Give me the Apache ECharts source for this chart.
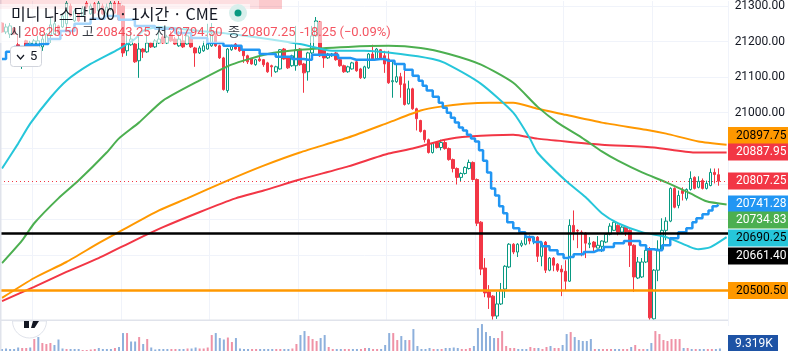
<!DOCTYPE html>
<html>
<head>
<meta charset="utf-8">
<style>
  html, body { margin: 0; padding: 0; background: #fff; }
  #chart { width: 788px; height: 351px; }
</style>
<script src="https://cdn.jsdelivr.net/npm/echarts@6/dist/echarts.min.js"></script>
</head>
<body>
<div id="chart"></div>
<script>
// candles
const opens = [
  21252,21227,21221,21238,21191,21151,21202,21174,21168,21179,
  21185,21196,21219,21221,21244,21241,21250,21300,21258,21278,
  21272,21308,21278,21306,21286,21300,21280,21292,21308,21306,
  21300,21174,21191,21193,21146,21179,21171,21196,21185,21196,
  21213,21196,21219,21207,21188,21202,21193,21213,21182,21168,
  21174,21179,21188,21216,21188,21154,21062,21177,21193,21185,
  21177,21160,21151,21135,21151,21149,21140,21132,21115,21123,
  21179,21154,21132,21132,21179,21137,21115,21168,21216,21255,
  21179,21154,21160,21168,21149,21132,21115,21123,21143,21123,
  21098,21126,21165,21151,21177,21160,21151,21087,21087,21101,
  21081,21025,21067,21011,20978,20950,20924,20888,20916,20902,
  20916,20899,20868,20843,20818,20829,20843,20860,20812,20692,
  20563,20496,20484,20428,20462,20504,20566,20630,20608,20627,
  20630,20650,20641,20650,20596,20636,20557,20591,20574,20560,
  20554,20526,20683,20669,20664,20661,20630,20636,20619,20624,
  20636,20658,20669,20683,20664,20678,20669,20627,20535,20538,
  20580,20616,20420,20557,20616,20669,20695,20787,20739,20781,
  20759,20784,20818,20790,20809,20787,20795,20832,20825.5
];
const closes = [
  21227,21241,21244,21221,21163,21174,21174,21196,21202,21202,
  21207,21221,21247,21250,21224,21272,21308,21272,21286,21258,
  21292,21297,21300,21280,21308,21278,21297,21308,21280,21261,
  21168,21193,21207,21143,21179,21171,21196,21185,21202,21207,
  21196,21213,21202,21193,21207,21185,21216,21185,21168,21182,
  21188,21193,21221,21188,21154,21065,21179,21188,21179,21174,
  21160,21143,21137,21149,21146,21135,21115,21129,21129,21177,
  21151,21126,21160,21177,21135,21112,21168,21216,21258,21160,
  21154,21165,21165,21149,21132,21115,21129,21140,21118,21098,
  21129,21165,21151,21179,21151,21137,21084,21090,21101,21079,
  21023,21067,21011,20983,20947,20924,20888,20913,20902,20916,
  20899,20868,20843,20818,20829,20846,20860,20812,20689,20560,
  20493,20481,20428,20462,20501,20568,20630,20608,20630,20633,
  20650,20639,20650,20596,20633,20557,20591,20571,20557,20552,
  20526,20683,20664,20667,20661,20633,20633,20622,20627,20639,
  20658,20681,20692,20664,20678,20664,20627,20538,20580,20580,
  20613,20423,20557,20616,20669,20695,20787,20734,20767,20773,
  20784,20815,20787,20807,20787,20801,20832,20826,20807.25
];
const lows = [
  21224,21221,21210,21219,21137,21123,21171,21168,21165,21160,
  21174,21191,21196,21219,21221,21238,21230,21269,21255,21255,
  21269,21292,21275,21278,21280,21275,21269,21286,21278,21258,
  21157,21160,21188,21140,21098,21154,21168,21182,21182,21193,
  21193,21193,21199,21191,21185,21182,21191,21182,21129,21165,
  21171,21177,21185,21185,21151,21062,21056,21174,21177,21171,
  21140,21137,21135,21132,21143,21129,21112,21101,21112,21121,
  21149,21123,21129,21118,21132,21056,21090,21165,21213,21157,
  21126,21151,21157,21146,21129,21112,21112,21121,21115,21095,
  21095,21123,21149,21149,21149,21112,21081,21042,21084,21042,
  21020,21023,21008,20950,20944,20916,20885,20885,20899,20894,
  20896,20865,20832,20798,20807,20826,20840,20809,20681,20543,
  20481,20448,20417,20420,20459,20479,20563,20602,20594,20622,
  20627,20630,20630,20580,20568,20549,20554,20554,20552,20484,
  20501,20524,20641,20619,20596,20591,20619,20608,20619,20608,
  20633,20655,20667,20655,20661,20653,20566,20496,20532,20535,
  20577,20417,20417,20526,20613,20641,20692,20731,20731,20753,
  20753,20781,20784,20787,20784,20784,20793,20801,20794.5
];
const highs = [
  21255,21250,21252,21241,21221,21177,21205,21202,21207,21216,
  21221,21224,21266,21258,21247,21278,21314,21306,21292,21280,
  21300,21314,21306,21311,21314,21306,21306,21314,21314,21314,
  21303,21221,21230,21196,21221,21182,21221,21199,21207,21244,
  21219,21219,21230,21213,21230,21224,21238,21224,21185,21188,
  21202,21250,21252,21230,21191,21157,21182,21191,21196,21188,
  21179,21163,21154,21151,21157,21151,21143,21135,21132,21179,
  21182,21157,21163,21244,21182,21140,21171,21244,21269,21258,
  21182,21168,21168,21171,21151,21135,21132,21143,21146,21126,
  21132,21168,21191,21182,21179,21174,21174,21146,21137,21112,
  21118,21090,21070,21014,20980,20952,20927,20916,20919,20924,
  20924,20902,20871,20846,20832,20849,20868,20863,20815,20695,
  20591,20515,20487,20496,20521,20571,20633,20633,20633,20641,
  20653,20655,20653,20653,20639,20639,20594,20594,20577,20571,
  20585,20700,20725,20672,20669,20664,20650,20639,20653,20641,
  20661,20689,20695,20686,20681,20681,20672,20630,20594,20591,
  20616,20622,20560,20641,20703,20706,20790,20790,20781,20790,
  20787,20835,20821,20821,20815,20809,20843,20843,20843.25
];

// volume in thousands, 1 = blue bar, 0 = pink bar
const volumes = [
  7.4,9.3,7.4,7.4,13,11.1,11.1,13,44.4,51.8,
  29.6,25.9,29.6,22.2,42.6,9.3,7.4,7.4,7.4,7.4,
  3.7,3.7,5.6,7.4,11.1,7.4,7.4,7.4,11.1,14.8,
  66.6,66.6,35.2,35.2,51.8,25.9,44.4,13,5.6,7.4,
  7.4,7.4,7.4,7.4,7.4,7.4,9.3,9.3,13,9.3,
  9.3,13,59.2,66.6,48.1,42.6,50,33.3,48.1,9.3,
  7.4,7.4,7.4,7.4,7.4,7.4,7.4,7.4,7.4,7.4,
  7.4,7.4,9.3,25.9,59.2,74,55.5,44.4,37,48.1,
  59.2,14.8,7.4,7.4,7.4,7.4,7.4,7.4,7.4,7.4,
  11.1,11.1,7.4,7.4,7.4,22.2,66.6,66.6,40.7,55.5,
  40.7,40.7,81.4,18.5,7.4,7.4,11.1,7.4,7.4,7.4,
  11.1,11.1,13,11.1,7.4,7.4,11.1,18.5,85.1,99.9,
  70.3,55.5,48.1,48.1,74,18.5,11.1,11.1,7.4,7.4,
  7.4,14.8,11.1,11.1,7.4,14.8,18.5,11.1,11.1,22.2,
  62.9,70.3,51.8,40.7,37,37,44.4,7.4,7.4,7.4,
  7.4,7.4,7.4,7.4,7.4,7.4,14.8,22.2,7.4,7.4,
  7.4,29.6,74,62.9,40.7,37,44.4,44.4,44.4,11.1,
  11.1,7.4,7.4,7.4,7.4,7.4,7.4,7.4,9.319
];
const volumeBlue = [
  1,1,1,1,1,0,0,1,0,1,0,0,0,1,1,1,0,1,1,1,
  0,0,0,0,1,1,1,1,0,1,1,0,1,1,0,1,0,1,1,1,
  1,1,0,0,1,1,0,1,1,0,0,0,0,1,1,1,0,0,1,1,
  1,1,0,0,1,1,1,1,0,0,1,1,0,0,1,1,0,0,0,1,
  1,0,0,1,1,0,0,1,1,0,0,1,0,0,1,1,1,0,0,1,
  1,0,1,1,1,1,1,0,1,0,1,1,1,1,0,0,0,1,1,1,
  1,1,1,0,0,0,0,0,1,1,1,0,0,1,0,0,1,0,0,1,
  1,0,1,1,1,1,1,0,1,0,0,0,1,1,0,0,1,0,0,0,
  1,1,0,0,0,0,0,0,0,1,0,1,0,1,1,0,0,1,1
];

// indicator curves: readings at a few bars, the line joins them
const orangeBars = [0,8,16,24,29,39,46,56,65,74,86,96,104,109,115,121,127,133,140,149,160,165,173,180];
const orangeVals = [20479,20535,20580,20633,20664,20725,20759,20809,20851,20888,20930,20972,21006,21017,21025,21028,21028,21011,20994,20972,20952,20941,20919,20910];
const redBars = [0,8,16,24,33,40,49,58,65,74,86,96,102,110,116,127,133,140,149,162,172,180];
const redVals = [20470,20510,20552,20591,20641,20678,20720,20759,20781,20812,20849,20885,20899,20924,20933,20938,20927,20919,20910,20902,20888,20888];
const greenBars = [0,5,8,14,19,26,29,34,40,49,57,66,74,86,96,104,111,119,127,133,138,144,149,153,159,165,171,175,180];
const greenVals = [20577,20641,20689,20759,20809,20888,20927,20972,21034,21090,21135,21165,21177,21185,21188,21182,21165,21135,21084,21017,20972,20930,20891,20865,20832,20804,20773,20751,20742];
const cyanBars = [0,4,7,12,16,22,29,33,35,39,49,57,74,82,90,99,107,110,119,127,131,133,140,145,149,153,159,165,171,173,176,180];
const cyanVals = [20843,20913,20969,21042,21090,21137,21179,21207,21230,21241,21230,21221,21193,21174,21174,21165,21151,21140,21081,21000,20930,20888,20809,20762,20717,20689,20664,20650,20622,20616,20622,20650];
const blueBars = [0,2,4,8,10,13,16,20,24,27,31,35,41,45,49,53,57,62,66,70,74,76,78,82,85,88,91,94,96,99,101,103,104,105,106,108,109,110,111,112,113,114,115,116,117,118,119,120,121,122,123,124,125,126,128,129,131,133,135,137,139,140,141,143,146,148,151,153,156,158,159,161,163,165,167,169,171,172,173,175,176,177,178];
const blueVals = [21151,21171,21185,21191,21193,21207,21230,21250,21264,21272,21261,21244,21236,21224,21210,21196,21188,21177,21165,21157,21151,21149,21163,21163,21154,21149,21149,21151,21146,21137,21121,21104,21090,21076,21062,21045,21028,21014,21000,20986,20972,20958,20950,20938,20927,20919,20894,20865,20832,20787,20767,20737,20717,20692,20675,20664,20650,20636,20624,20613,20602,20591,20594,20602,20608,20613,20622,20633,20639,20639,20627,20616,20613,20627,20647,20664,20675,20692,20703,20714,20725,20737,20741.28];

// horizontal levels and axis labels
const blackLevel = 20661.4;
const orangeLevel = 20500.5;
const lastPrice = 20807.25;
const priceTicks = [21300, 21200, 21100, 21000];

// price tags on the right scale
const tagLabels = ['20897.75', '20887.95', '20807.25', '20741.28', '20734.83', '20690.25', '20661.40', '20500.50'];
const tagColors = ['#ff9800', '#f23645', '#f23645', '#2196f3', '#4caf50', '#26c6da', '#000000', '#ff9800'];
const tagText = ['#000', '#fff', '#fff', '#fff', '#fff', '#000', '#fff', '#000'];
const tagCenters = [135.5, 152, 181, 204, 220, 238, 256, 290.5];

const barCount = 181;
const bars = [];
for (let i = 0; i < barCount; i++) bars.push(i);

const zip = (xs, ys) => xs.map((x, i) => [x, ys[i]]);
const upColor = '#089981';
const downColor = '#f23645';
const monoFont = 'Roboto, sans-serif';
const krFont = '"Noto Sans CJK KR", sans-serif';

function curve(name, xs, ys, color, extra) {
  return Object.assign({
    name: name,
    type: 'line',
    xAxisIndex: 0,
    yAxisIndex: 0,
    data: zip(xs, ys),
    symbol: 'none',
    smooth: 0.2,
    z: 4,
    silent: true,
    lineStyle: { color: color, width: 2 }
  }, extra || {});
}

function ohlcRow() {
  const parts = [
    ['시', 10, '#131722'], ['20825.50', 24, downColor],
    ['고', 82, '#131722'], ['20843.25', 96, downColor],
    ['저', 155, '#131722'], ['20794.50', 168, downColor],
    ['종', 228, '#131722'], ['20807.25', 241, downColor],
    ['-18.25 (−0.09%)', 300, downColor]
  ];
  return parts.map((p) => ({
    type: 'text', x: p[1], y: 33, z: 62,
    style: { text: p[0], fill: p[2], opacity: 0.85, font: '13px Roboto, "Noto Sans CJK KR", sans-serif', verticalAlign: 'middle' }
  }));
}

const tagEls = [];
tagLabels.forEach((t, i) => {
  tagEls.push({ type: 'rect', x: 728, y: tagCenters[i] - 8.5, z: 70, shape: { width: 60, height: 17 }, style: { fill: tagColors[i] } });
  tagEls.push({ type: 'text', x: 736, y: tagCenters[i], z: 71, style: { text: t, fill: tagText[i], font: '12px ' + monoFont, verticalAlign: 'middle' } });
});

const option = {
  animation: false,
  backgroundColor: '#ffffff',
  axisPointer: { show: false },
  grid: [
    // the price pane runs a little past its separator so that 20400 is a round axis minimum
    { left: 0, width: 730, top: 0, height: 326 },
    { left: 0, width: 730, top: 320, height: 31 }
  ],
  xAxis: [
    {
      type: 'category', gridIndex: 0, data: bars,
      axisLine: { show: false }, axisTick: { show: false }, axisLabel: { show: false },
      splitLine: { show: true, interval: (i) => (i - 8) % 22 === 0, lineStyle: { color: '#f0f3fa', width: 1 } }
    },
    {
      type: 'category', gridIndex: 1, data: bars,
      axisLine: { show: false }, axisTick: { show: false }, axisLabel: { show: false }, splitLine: { show: false }
    }
  ],
  yAxis: [
    {
      type: 'value', gridIndex: 0, position: 'right', min: 20400, max: 21314, interval: 100,
      axisLine: { show: false }, axisTick: { show: false },
      axisLabel: {
        color: '#131722', fontFamily: monoFont, fontSize: 12, margin: 6, showMaxLabel: false,
        formatter: (v) => (priceTicks.indexOf(v) >= 0 ? v.toFixed(2) : '')
      },
      splitLine: { show: true, showMinLine: false, showMaxLine: false, lineStyle: { color: '#f0f3fa', width: 1 } }
    },
    {
      type: 'value', gridIndex: 1, min: 0, max: 115,
      axisLine: { show: false }, axisTick: { show: false }, axisLabel: { show: false }, splitLine: { show: false }
    }
  ],
  series: [
    {
      name: 'candles',
      type: 'candlestick',
      xAxisIndex: 0,
      yAxisIndex: 0,
      barWidth: 3,
      z: 3,
      silent: true,
      data: opens.map((o, i) => [o, closes[i], lows[i], highs[i]]),
      itemStyle: { color: '#ffffff', color0: downColor, borderColor: upColor, borderColor0: downColor, borderWidth: 1 },
      markLine: {
        silent: true,
        symbol: 'none',
        label: { show: false },
        animation: false,
        data: [
          { yAxis: lastPrice, lineStyle: { color: downColor, type: [1, 3], width: 1 } },
          { yAxis: blackLevel, lineStyle: { color: '#000000', type: 'solid', width: 2.5 } },
          { yAxis: orangeLevel, lineStyle: { color: '#ff9800', type: 'solid', width: 2.5 } }
        ]
      }
    },
    {
      name: 'volume',
      type: 'bar',
      xAxisIndex: 1,
      yAxisIndex: 1,
      barWidth: 2,
      z: 3,
      silent: true,
      data: volumes.map((v, i) => ({ value: v, itemStyle: { color: volumeBlue[i] ? '#8db0dc' : '#ef92a6' } }))
    },
    curve('orange', orangeBars, orangeVals, '#ff9800'),
    curve('red', redBars, redVals, '#f23645'),
    curve('green', greenBars, greenVals, '#4caf50'),
    curve('cyan', cyanBars, cyanVals, '#26c6da'),
    curve('blue', blueBars, blueVals, '#2196f3', { smooth: false, step: 'middle', lineStyle: { color: '#2196f3', width: 2.5 } })
  ],
  graphic: {
    elements: [
      // covers the foot of the price pane, under the volume bars
      { type: 'rect', x: 0, y: 320, z: 1, shape: { width: 728, height: 31 }, style: { fill: '#ffffff' } },
      { type: 'rect', x: 0, y: 0, z: 50, shape: { width: 1.5, height: 351 }, style: { fill: '#e0e3eb' } },
      { type: 'rect', x: 0, y: 319.5, z: 55, shape: { width: 728, height: 1.5 }, style: { fill: '#e0e3eb' } },
      // legend backdrop
      { type: 'rect', x: 0, y: 0, z: 50, shape: { width: 282, height: 9 }, style: { fill: 'rgba(242,54,69,0.16)' } },
      { type: 'rect', x: 259, y: 0, z: 50, shape: { width: 23, height: 9 }, style: { fill: 'rgba(242,54,69,0.12)' } },
      { type: 'rect', x: 0, y: 4, z: 51, shape: { width: 250, height: 18 }, style: { fill: 'rgba(255,255,255,0.6)' } },
      { type: 'rect', x: 0, y: 22, z: 51, shape: { width: 392, height: 21 }, style: { fill: 'rgba(255,255,255,0.6)' } },
      { type: 'text', x: 11, y: 14, z: 62, style: { text: '미니 나스닥100 · 1시간 · CME', fill: '#131722', font: '16px ' + krFont, verticalAlign: 'middle' } },
      { type: 'circle', x: 238, y: 13, z: 61, shape: { r: 9 }, style: { fill: '#d8efec' } },
      { type: 'circle', x: 238, y: 13, z: 62, shape: { r: 3.5 }, style: { fill: upColor } },
      ...ohlcRow(),
      // collapse button
      { type: 'rect', x: 10.5, y: 46.5, z: 60, shape: { width: 31, height: 20, r: 3 }, style: { fill: '#ffffff', stroke: '#d1d4dc', lineWidth: 1 } },
      { type: 'polyline', x: 0, y: 0, z: 62, shape: { points: [[17, 55], [20.5, 59], [24, 55]] }, style: { fill: null, stroke: '#131722', lineWidth: 1.2 } },
      { type: 'text', x: 30, y: 57, z: 62, style: { text: '5', fill: '#131722', font: '13px ' + monoFont, verticalAlign: 'middle' } },
      // logo, cut by the pane edge
      { type: 'sector', x: 0, y: 0, z: 56, shape: { cx: 29.5, cy: 321, r: 17, r0: 0, startAngle: 0, endAngle: Math.PI }, style: { fill: '#ffffff', stroke: '#e0e3eb', lineWidth: 1 } },
      { type: 'rect', x: 24, y: 321, z: 57, shape: { width: 5, height: 7 }, style: { fill: '#131722' } },
      { type: 'polygon', x: 0, y: 0, z: 57, shape: { points: [[33, 321], [39, 321], [34.5, 328], [31, 328]] }, style: { fill: '#131722' } },
      ...tagEls,
      { type: 'rect', x: 728, y: 335, z: 70, shape: { width: 50, height: 16 }, style: { fill: '#1e53a5' } },
      { type: 'text', x: 735, y: 343.5, z: 71, style: { text: '9.319K', fill: '#ffffff', font: '12px ' + monoFont, verticalAlign: 'middle' } }
    ]
  }
};

const chart = echarts.init(document.getElementById('chart'), null, { renderer: 'canvas' });
chart.setOption(option);
</script>
</body>
</html>
